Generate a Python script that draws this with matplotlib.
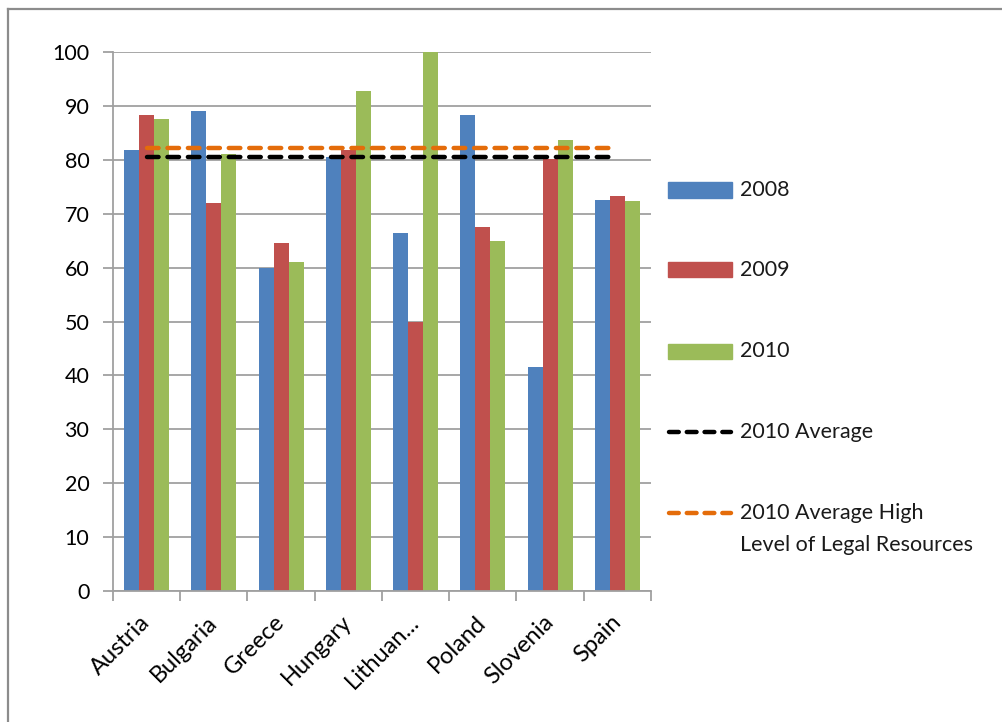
import matplotlib
matplotlib.use("Agg")
import matplotlib.pyplot as plt
from matplotlib.patches import Rectangle
from matplotlib.lines import Line2D
import numpy as np

countries = ["Austria", "Bulgaria", "Greece", "Hungary", "Lithuan...",
             "Poland", "Slovenia", "Spain"]
vals_2008 = [81.8, 89.0, 60.0, 80.6, 66.5, 88.4, 41.6, 72.5]
vals_2009 = [88.4, 72.0, 64.5, 81.8, 50.0, 67.5, 80.1, 73.3]
vals_2010 = [87.5, 81.0, 61.1, 92.7, 100.0, 64.9, 83.7, 72.3]
avg_2010 = 80.5
avg_high_2010 = 82.1

series_names = ["2008", "2009", "2010"]
line_names = ["2010 Average", "2010 Average High\nLevel of Legal Resources"]

BLUE = "#4F81BD"
RED = "#C0504D"
GREEN = "#9BBB59"
ORANGE = "#E46C0A"
GRID = "#A0A0A0"

plt.rcParams["font.family"] = ["Lato", "DejaVu Sans"]

W, H = 1003, 722
fig = plt.figure(figsize=(W / 100, H / 100), dpi=100)

def fx(px):
    return px / W

def fy(py):
    return 1 - py / H

ax = fig.add_axes([fx(113), fy(591), fx(651) - fx(113), fy(52) - fy(591)])

x = np.arange(len(countries))
w = 0.224
ax.bar(x - w, vals_2008, w, color=BLUE, zorder=2)
ax.bar(x, vals_2009, w, color=RED, zorder=2)
ax.bar(x + w, vals_2010, w, color=GREEN, zorder=2)

# average lines run from first to last category centre
dash = dict(lw=3.2, dashes=(2.6, 2.0), dash_capstyle="round", zorder=3)
ax.plot([x[0], x[-1]], [avg_high_2010] * 2, color=ORANGE, **dash)
ax.plot([x[0], x[-1]], [avg_2010] * 2, color="black", **dash)

ax.set_xlim(-0.5, len(countries) - 0.5)
ax.set_ylim(0, 100)
ax.set_yticks(np.arange(0, 101, 10))
ax.yaxis.grid(True, color=GRID, lw=1.3, zorder=0)
ax.set_axisbelow(True)

ax.set_xticks(np.arange(len(countries) + 1) - 0.5)
ax.set_xticklabels([])
ax.set_xticks(x, minor=True)
ax.set_xticklabels(countries, minor=True, rotation=45, ha="right",
                   va="center", rotation_mode="anchor", fontsize=17)
ax.tick_params(axis="x", which="minor", length=0, pad=20)
ax.tick_params(axis="x", which="major", length=7, width=1.3, color=GRID,
               direction="out")
ax.tick_params(axis="y", length=7, width=1.3, color=GRID, pad=10,
               labelsize=15.5)

for side in ["top", "right"]:
    ax.spines[side].set_visible(False)
for side in ["left", "bottom"]:
    ax.spines[side].set_color(GRID)
    ax.spines[side].set_linewidth(1.3)

# legend on the right
txt_kw = dict(fontsize=15.5, color="#1a1a1a", va="center", ha="left")
patch_colors = [BLUE, RED, GREEN]
patch_y = [190, 270, 351]
for name, col, py in zip(series_names, patch_colors, patch_y):
    fig.add_artist(Rectangle((fx(668), fy(py + 7.5)), fx(64), fy(0) - fy(15),
                             transform=fig.transFigure, color=col))
    fig.text(fx(740), fy(py), name, **txt_kw)

line_colors = ["black", ORANGE]
line_y = [432, 513]
for name, col, py in zip(line_names, line_colors, line_y):
    fig.add_artist(Line2D([fx(669), fx(731)], [fy(py), fy(py)],
                          transform=fig.transFigure, color=col, lw=3.2,
                          dashes=(2.2, 1.8), dash_capstyle="round"))
    first, *rest = name.split("\n")
    fig.text(fx(740), fy(py), first, **txt_kw)
    for i, extra in enumerate(rest):
        fig.text(fx(740), fy(py + 32 * (i + 1)), extra, **txt_kw)

# chart frame (top and left edges)
fig.add_artist(Line2D([fx(8), 1], [fy(9), fy(9)], transform=fig.transFigure,
                      color="#8c8c8c", lw=1.6))
fig.add_artist(Line2D([fx(8), fx(8)], [fy(9), 0], transform=fig.transFigure,
                      color="#8c8c8c", lw=1.6))

fig.savefig("out.png", dpi=100)
